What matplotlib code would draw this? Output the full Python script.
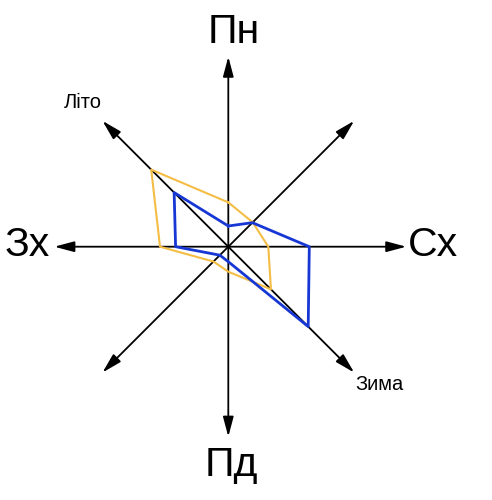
import numpy as np
import matplotlib
matplotlib.use("Agg")
import matplotlib.pyplot as plt

plt.rcParams['font.family'] = ['Liberation Sans', 'DejaVu Sans']

# Directions (compass), angles in degrees (math convention)
directions = ["Пн", "ПнСх", "Сх", "ПдСх", "Пд", "ПдЗх", "Зх", "ПнЗх"]
angles_deg = [90, 45, 0, -45, -90, -135, 180, 135]

# Series values (relative wind frequency)
winter = [20.7, 34, 81, 113, 15, 12, 52.7, 76.6]    # Зима (blue)
summer = [44.3, 34.5, 40, 60.3, 25, 21, 68.3, 109]  # Літо (orange)

fig = plt.figure(figsize=(4.92, 5.0), dpi=100)
ax = fig.add_axes([0, 0, 1, 1])
ax.set_xlim(0, 492)
ax.set_ylim(0, 500)
ax.set_aspect('equal')
ax.axis('off')

cx, cy = 228.3, 253.3
arrow_len = {90: 190, -90: 190, 0: 178, 180: 174}
diag_len = 178

for a in angles_deg:
    L = arrow_len.get(a, diag_len)
    t = np.deg2rad(a)
    ax.annotate("", xy=(cx + L * np.cos(t), cy + L * np.sin(t)), xytext=(cx, cy),
                arrowprops=dict(arrowstyle='-|>,head_length=1.2,head_width=0.32',
                                mutation_scale=10, color='black', lw=1.3,
                                shrinkA=0, shrinkB=0), zorder=1)

def poly(vals):
    t = np.deg2rad(angles_deg)
    x = cx + np.array(vals) * np.cos(t)
    y = cy + np.array(vals) * np.sin(t)
    return np.append(x, x[0]), np.append(y, y[0])

xs, ys = poly(summer)
ax.plot(xs, ys, color='#f4bd45', lw=1.5, zorder=2)
xw, yw = poly(winter)
ax.plot(xw, yw, color='#1737d4', lw=2.0, zorder=3)

# Labels
ax.text(233.5, 500 - 32, "Пн", fontsize=29.5, ha='center', va='center')
ax.text(231, 500 - 465, "Пд", fontsize=29.5, ha='center', va='center')
ax.text(27, 500 - 245, "Зх", fontsize=29.5, ha='center', va='center')
ax.text(433, 500 - 245, "Сх", fontsize=29.5, ha='center', va='center')
ax.text(83, 500 - 103, "Літо", fontsize=14.5, ha='center', va='center')
ax.text(379.5, 500 - 385, "Зима", fontsize=14.5, ha='center', va='center')

fig.savefig("out.png", dpi=100)
